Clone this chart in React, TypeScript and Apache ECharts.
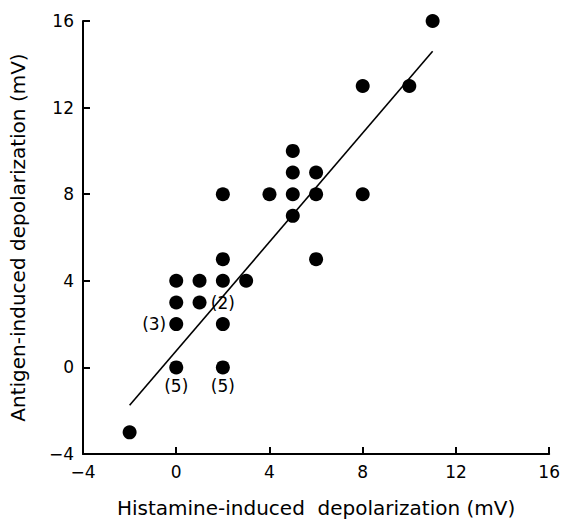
import React, { useEffect, useRef } from "react";
import * as echarts from "echarts";

const histamine = [-2, 0, 2, 0, 0, 0, 1, 1, 2, 2, 2, 2, 3, 4, 5, 5, 5, 5, 6, 6, 6, 8, 8, 10, 11];
const antigen = [-3, 0, 0, 2, 3, 4, 3, 4, 2, 4, 5, 8, 4, 8, 7, 8, 9, 10, 5, 8, 9, 8, 13, 13, 16];

const regressionX = [-2, 11];
const regressionY = [-1.75, 14.6];

const annotationX = [0, 2, 0, 2];
const annotationY = [0, 0, 2, 4];
const annotationText = ["(5)", "(5)", "(3)", "(2)"];
const annotationPos = ["bottom", "bottom", "left", "bottom"];

const xTicks = { min: -4, max: 16, interval: 4 };
const yTicks = { min: -4, max: 16, interval: 4 };

const FONT = "'DejaVu Sans', 'Liberation Sans', Arial, sans-serif";

export default function App() {
  const ref = useRef<HTMLDivElement>(null);
  useEffect(() => {
    if (!ref.current) return;
    const chart = echarts.init(ref.current, null, { renderer: "svg" });
    const fmt = (v: number) => String(v).replace("-", "\u2212");
    const axisCommon = {
      type: "value",
      splitLine: { show: false },
      axisLine: { show: true, onZero: false, lineStyle: { color: "#000", width: 2 } },
      axisTick: { show: true, inside: true, length: 7, lineStyle: { color: "#000", width: 2 } },
      axisLabel: { color: "#000", fontSize: 17, fontFamily: FONT, formatter: fmt },
      nameLocation: "middle",
      nameTextStyle: { color: "#000", fontSize: 20, fontFamily: FONT },
    };
    chart.setOption({
      animation: false,
      backgroundColor: "#fff",
      grid: { left: 77, top: 21, width: 475, height: 445, containLabel: false },
      xAxis: {
        ...axisCommon,
        ...xTicks,
        name: "Histamine-induced\u00a0\u00a0depolarization (mV)",
        nameGap: 44,
        axisLabel: { ...axisCommon.axisLabel, margin: 9 },
      },
      yAxis: {
        ...axisCommon,
        ...yTicks,
        name: "Antigen-induced depolarization (mV)",
        nameGap: 55,
        axisLabel: { ...axisCommon.axisLabel, margin: 9 },
      },
      series: [
        {
          type: "line",
          data: regressionX.map((x, i) => [x, regressionY[i]]),
          symbol: "none",
          lineStyle: { color: "#000", width: 1.6 },
          silent: true,
        },
        {
          type: "scatter",
          data: histamine.map((x, i) => [x, antigen[i]]),
          symbol: "circle",
          symbolSize: 14,
          itemStyle: { color: "#000", opacity: 1 },
        },
        {
          type: "scatter",
          data: annotationX.map((x, i) => ({
            value: [x, annotationY[i]],
            label: {
              show: true,
              formatter: annotationText[i],
              position: annotationPos[i],
              distance: annotationPos[i] === "left" ? 3 : annotationText[i] === "(2)" ? 7 : 3,
              color: "#000",
              fontSize: 17,
              fontFamily: FONT,
            },
          })),
          symbolSize: 14,
          itemStyle: { color: "rgba(0,0,0,0)", opacity: 1 },
          silent: true,
          z: 5,
        },
      ],
    });
    return () => chart.dispose();
  }, []);
  return (
    <div
      ref={ref}
      style={{ position: "fixed", left: 0, top: 0, width: 563, height: 523, background: "#fff" }}
    />
  );
}
